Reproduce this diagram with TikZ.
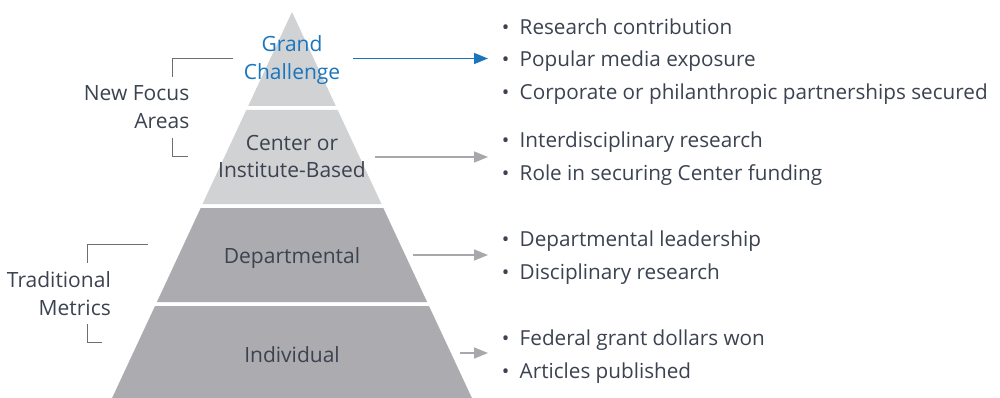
\documentclass[tikz,border=0pt]{standalone}
\usepackage{fontspec}
\setmainfont{Open Sans}
\usetikzlibrary{arrows.meta}
\definecolor{accent}{HTML}{1B75BC}
\definecolor{ink}{HTML}{3B4250}
\definecolor{tierlight}{HTML}{D1D2D4}
\definecolor{tierdark}{HTML}{ACABB0}
\definecolor{bracketgray}{HTML}{6D6E70}
\definecolor{arrowgray}{HTML}{A8A8AC}
\begin{document}
\begin{tikzpicture}[x=1pt,y=-1pt,
  label/.style={font=\fontsize{21}{27.5}\selectfont, text=ink, align=center, inner sep=0pt, anchor=base},
  sidelabel/.style={font=\fontsize{21}{28}\selectfont, text=ink, align=right, inner sep=0pt, anchor=base east},
  bullets/.style={font=\fontsize{20.7}{32.5}\selectfont, text=ink, align=left, inner sep=0pt, anchor=base west},
  bracket/.style={draw=bracketgray, line width=1.2pt},
  link/.style={draw=arrowgray, line width=1.5pt, -{Triangle[length=14pt,width=11pt]}, shorten >=13pt},
  bluelink/.style={link, draw=accent}
]
\useasboundingbox (0,0) rectangle (1000,398);

% pyramid tiers
\fill[tierlight] (292,12) -- (335.8,106) -- (248.2,106) -- cycle;
\fill[tierlight] (246.3,110) -- (337.7,110) -- (381.5,204) -- (202.5,204) -- cycle;
\fill[tierdark] (200.7,208) -- (383.3,208) -- (427.1,302) -- (156.9,302) -- cycle;
\fill[tierdark] (155,306) -- (429,306) -- (471.9,398) -- (112.1,398) -- cycle;

% tier labels (anchored at the baseline of the last line)
\node[label, text=accent] (grand) at (292,79.5) {Grand\\Challenge};
\node[label] (center) at (292,178) {Center or\\Institute-Based};
\node[label] (dept) at (292,263) {Departmental};
\node[label] (indiv) at (292,362) {Individual};

% group labels with brackets
\node[sidelabel] (focus) at (189.5,129) {New Focus\\Areas};
\node[sidelabel] (trad) at (111,315) {Traditional\\Metrics};
\draw[bracket] (233,58.5) -| (172.5,77);
\draw[bracket] (172.5,138) |- (188,156.5);
\draw[bracket] (148,244.5) -| (87.5,263);
\draw[bracket] (87.5,324) |- (102,342.5);

% bullet lists (anchored at the baseline of the last line)
\newcommand{\itm}[1]{\makebox[18.5pt][l]{\makebox[9pt][c]{\fontsize{20}{20}\selectfont •}}#1}
\node[bullets] (l1) at (501,99.5) {\itm{Research contribution}\\\itm{Popular media exposure}\\\itm{Corporate or philanthropic partnerships secured}};
\node[bullets] (l2) at (501,180.5) {\itm{Interdisciplinary research}\\\itm{Role in securing Center funding}};
\node[bullets] (l3) at (501,279) {\itm{Departmental leadership}\\\itm{Disciplinary research}};
\node[bullets] (l4) at (501,378) {\itm{Federal grant dollars won}\\\itm{Articles published}};

% arrows from tiers to lists
\coordinate (s1) at (353,58.5);
\coordinate (s2) at (375,157);
\coordinate (s3) at (413,255);
\coordinate (s4) at (460,353);
\draw[bluelink] (s1) -- (s1 -| l1.west);
\draw[link] (s2) -- (s2 -| l2.west);
\draw[link] (s3) -- (s3 -| l3.west);
\draw[link] (s4) -- (s4 -| l4.west);
\end{tikzpicture}
\end{document}
